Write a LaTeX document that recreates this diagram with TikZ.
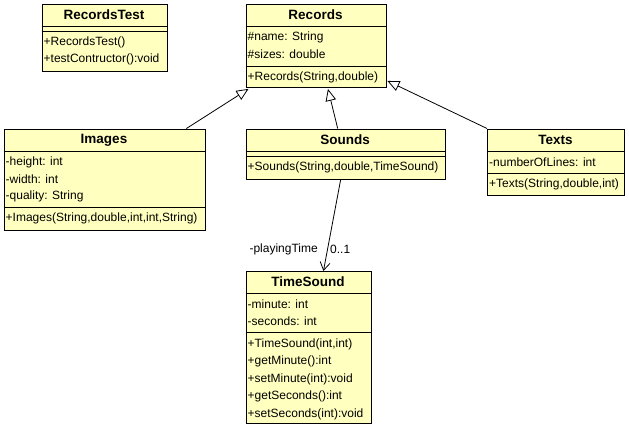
\documentclass[tikz,border=0pt]{standalone}
\usepackage{fontspec}
\setmainfont{Liberation Sans}
\usetikzlibrary{arrows.meta}
\definecolor{clsfill}{HTML}{FFFFC0}
\begin{document}
\begin{tikzpicture}[x=1pt,y=-1pt,
  cls/.style={draw=black, fill=clsfill, line width=0.9pt, rectangle, inner sep=0pt, anchor=north west},
  sep/.style={line width=0.9pt},
  ttl/.style={inner sep=0pt, font=\fontsize{13.5}{15}\selectfont\bfseries},
  txt/.style={inner sep=0pt, anchor=west, font=\fontsize{12}{14}\selectfont},
  lbl/.style={inner sep=0pt, font=\fontsize{12}{14}\selectfont},
  gen/.style={line width=0.8pt, -{Triangle[open, length=12pt, width=10.5pt, fill=white]}},
  assoc/.style={line width=0.8pt, -{Straight Barb[length=8pt, width=10pt]}}]
\useasboundingbox[fill=white] (0,0) rectangle (629,426);

% RecordsTest
\node[cls, minimum width=125, minimum height=67] (recordstest) at (41.5,3.5) {};
\draw[sep] (41.5,26) -- (166.5,26);
\draw[sep] (41.5,31) -- (166.5,31);
\node[ttl] (recordstestT) at (104,15) {RecordsTest};
\node[txt] (rt1) at (43.5,42.5) {+RecordsTest()};
\node[txt] (rt2) at (43.5,59.5) {+testContructor():void};

% Records
\node[cls, minimum width=140, minimum height=83.5] (records) at (245.5,3.5) {};
\draw[sep] (245.5,26) -- (385.5,26);
\draw[sep] (245.5,66.5) -- (385.5,66.5);
\node[ttl] (recordsT) at (315.5,15) {Records};
\node[txt] (r1) at (247.5,37.5) {\#name: String};
\node[txt] (r2) at (247.5,54) {\#sizes: double};
\node[txt] (r3) at (247.5,77) {+Records(String,double)};

% Images
\node[cls, minimum width=201, minimum height=101] (images) at (3.5,128.5) {};
\draw[sep] (3.5,151) -- (204.5,151);
\draw[sep] (3.5,207.5) -- (204.5,207.5);
\node[ttl] (imagesT) at (104,140) {Images};
\node[txt] (i1) at (5.5,162) {-height: int};
\node[txt] (i2) at (5.5,179) {-width: int};
\node[txt] (i3) at (5.5,196) {-quality: String};
\node[txt] (i4) at (5.5,218.5) {+Images(String,double,int,int,String)};

% Sounds
\node[cls, minimum width=199.5, minimum height=50] (sounds) at (245.5,128.5) {};
\draw[sep] (245.5,151) -- (445,151);
\draw[sep] (245.5,156) -- (445,156);
\node[ttl] (soundsT) at (345,139.5) {Sounds};
\node[txt] (s1) at (247.5,167) {+Sounds(String,double,TimeSound)};

% Texts
\node[cls, minimum width=137, minimum height=66.5] (texts) at (487,128.5) {};
\draw[sep] (487,151) -- (624,151);
\draw[sep] (487,173) -- (624,173);
\node[ttl] (textsT) at (555.5,139.5) {Texts};
\node[txt] (t1) at (489,162) {-numberOfLines: int};
\node[txt] (t2) at (489,184) {+Texts(String,double,int)};

% TimeSound
\node[cls, minimum width=125, minimum height=152] (timesound) at (245.5,271) {};
\draw[sep] (245.5,293.5) -- (370.5,293.5);
\draw[sep] (245.5,332.5) -- (370.5,332.5);
\node[ttl] (timesoundT) at (308,282) {TimeSound};
\node[txt] (ts1) at (247.5,304.5) {-minute: int};
\node[txt] (ts2) at (247.5,321.5) {-seconds: int};
\node[txt] (ts3) at (247.5,344) {+TimeSound(int,int)};
\node[txt] (ts4) at (247.5,361.5) {+getMinute():int};
\node[txt] (ts5) at (247.5,379) {+setMinute(int):void};
\node[txt] (ts6) at (247.5,396.5) {+getSeconds():int};
\node[txt] (ts7) at (247.5,414) {+setSeconds(int):void};

% connectors
\draw[gen] ([xshift=-19pt]images.north east) -- ([xshift=3pt,yshift=-1pt]records.south west);
\draw[gen] ([xshift=-8pt]sounds.north) -- ([xshift=12pt,yshift=-1pt]records.south);
\draw[gen] (texts.north west) -- ([xshift=1pt,yshift=7pt]records.south east);
\draw[assoc] ([xshift=-5pt]sounds.south) -- ([xshift=15pt]timesound.north);
\node[lbl, anchor=east] (role) at (318,249) {-playingTime};
\node[lbl, anchor=west] (mult) at (330,249) {0..1};
\end{tikzpicture}
\end{document}
